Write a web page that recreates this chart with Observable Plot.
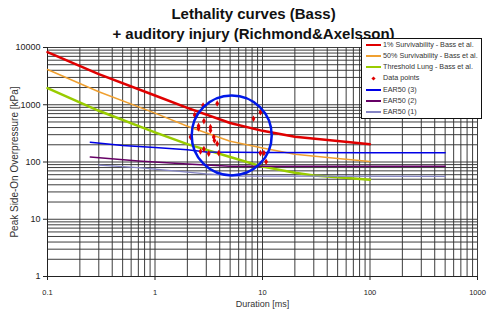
<!DOCTYPE html>
<html><head><meta charset="utf-8">
<script src="https://cdn.jsdelivr.net/npm/d3@7"></script>
<script src="https://cdn.jsdelivr.net/npm/@observablehq/plot@0.6"></script>
<style>
body{margin:0;background:#fff;font-family:"Liberation Sans",Arial,sans-serif;}
#wrap{position:relative;width:490px;height:313px;overflow:hidden;}
#legend{position:absolute;left:361px;top:38px;width:121px;height:81px;border:1px solid #111;background:#fff;box-sizing:border-box;}
.item{position:absolute;left:0;height:10px;font-size:7.2px;color:#333;line-height:10px;white-space:nowrap;}
.sw{position:absolute;left:4px;width:15px;}
.lab{position:absolute;left:21px;top:0;}
</style></head><body><div id="wrap"><div id="legend"></div></div>
<script>
const titleLines = ["Lethality curves (Bass)", "+ auditory injury (Richmond&Axelsson)"];
const xLabel = "Duration [ms]";
const yLabel = "Peak Side-On Overpressure [kPa]";
const xTicks = [0.1, 1, 10, 100, 1000];
const yTicks = [1, 10, 100, 1000, 10000];

const seriesNames = ["1% Survivability - Bass et al.", "50% Survivability - Bass et al.", "Threshold Lung - Bass et al.", "EAR50 (3)", "EAR50 (2)", "EAR50 (1)"];

const redX = [0.1, 0.3, 1, 2, 5, 10, 20, 50, 100];
const redY = [8300, 3420, 1450, 880, 480, 350, 275, 232, 205];
const orangeX = [0.1, 0.3, 1, 2, 5, 10, 20, 50, 100];
const orangeY = [4130, 1690, 713, 420, 230, 175, 136, 115, 102];
const greenX = [0.1, 0.3, 1, 2, 5, 10, 20, 30, 50, 100];
const greenY = [1950, 785, 329, 205, 122, 83, 65, 58, 54, 49];
const ear3X = [0.25, 0.5, 1, 2, 3, 10, 100, 500];
const ear3Y = [222, 195, 180, 163, 150, 146, 145, 145];
const ear2X = [0.25, 0.7, 2, 5, 500];
const ear2Y = [122, 104, 92, 84, 84];
const ear1X = [0.3, 0.7, 1.5, 3, 6, 500];
const ear1Y = [88, 80, 70, 62, 57, 56];

const dotsX = [2.80, 3.79, 2.34, 2.85, 2.54, 2.54, 3.28, 3.28, 3.52, 3.57, 3.79, 2.14, 2.85, 2.65, 3.16, 3.92, 8.24, 9.57, 9.57, 10.3, 10.8];
const dotsY = [973, 1054, 664, 518, 427, 385, 406, 356, 272, 238, 209, 274, 169, 153, 140, 143, 570, 743, 143, 143, 101];

const circleX = [5.17];
const circleY = [291];

const colors = ["#e00000", "#f0a030", "#99cc00", "#0000e6", "#660066", "#8585c5"];
const widths = [2.5, 1.5, 2.5, 1.5, 1.5, 1.3];
const xs = [redX, orangeX, greenX, ear3X, ear2X, ear1X];
const ys = [redY, orangeY, greenY, ear3Y, ear2Y, ear1Y];

const grid = (decades, top) => { const a = []; decades.forEach(d => { for (let k = 1; k <= 9; k++) a.push(d * k); }); a.push(top); return a; };
const xGrid = grid([0.1, 1, 10, 100], 1000).filter(v => v !== 0.1);
const yGrid = grid([1, 10, 100, 1000], 10000).filter(v => v !== 1);

const lineMarks = xs.map((xa, i) => Plot.line(xa.map((x, j) => ({x, y: ys[i][j]})), {x: "x", y: "y", stroke: colors[i], strokeWidth: widths[i]}));
const dots = dotsX.map((x, i) => ({x, y: dotsY[i]}));
const circ = circleX.map((x, i) => ({x, y: circleY[i]}));

const chart = Plot.plot({
  width: 490, height: 313,
  marginLeft: 47, marginRight: 13, marginTop: 47, marginBottom: 37,
  style: {fontFamily: "'Liberation Sans', Arial, sans-serif", background: "#fff", color: "#222"},
  x: {type: "log", domain: [0.1, 1000]},
  y: {type: "log", domain: [1, 10000]},
  marks: [
    Plot.gridX(xGrid, {stroke: "#333", strokeOpacity: 0.95, strokeWidth: 1}),
    Plot.gridY(yGrid, {stroke: "#333", strokeOpacity: 0.95, strokeWidth: 1}),
    Plot.ruleX([0.1], {stroke: "#222"}),
    Plot.ruleY([1], {stroke: "#222"}),
    Plot.axisX(xTicks, {tickSize: 4, tickPadding: 9, fontSize: 7.5, tickFormat: d => String(d), label: null}),
    Plot.axisY(yTicks, {tickSize: 4, tickPadding: 3, fontSize: 9, tickFormat: d => String(d), label: null}),
    ...lineMarks,
    Plot.dot(dots, {x: "x", y: "y", r: 2, symbol: "diamond", fill: "#e00000"}),
    Plot.dot(circ, {x: "x", y: "y", r: 40, stroke: "#0018e8", strokeWidth: 2.5, fill: "none"}),
    Plot.text([titleLines[0]], {text: d => d, frameAnchor: "top", dx: -9, dy: -33.5, fontSize: 15, fontWeight: "bold", lineAnchor: "middle", fill: "#111"}),
    Plot.text([titleLines[1]], {text: d => d, frameAnchor: "top", dx: -9, dy: -13, fontSize: 15, fontWeight: "bold", lineAnchor: "middle", fill: "#111"}),
    Plot.text([xLabel], {text: d => d, frameAnchor: "bottom", dy: 28, fontSize: 9, lineAnchor: "middle", textAnchor: "middle", fill: "#333"}),
    Plot.text([yLabel], {text: d => d, frameAnchor: "left", dx: -33, rotate: -90, fontSize: 10, lineAnchor: "middle", textAnchor: "middle", fill: "#333"})
  ]
});
const wrap = document.getElementById("wrap");
wrap.insertBefore(chart, wrap.firstChild);

const legend = document.getElementById("legend");
const legendItems = [
  {name: seriesNames[0], color: colors[0], type: "line"},
  {name: seriesNames[1], color: colors[1], type: "line"},
  {name: seriesNames[2], color: colors[2], type: "line"},
  {name: "Data points", color: "#e00000", type: "dot"},
  {name: seriesNames[3], color: colors[3], type: "line"},
  {name: seriesNames[4], color: colors[4], type: "line"},
  {name: seriesNames[5], color: colors[5], type: "line"}
];
legendItems.forEach((it, i) => {
  const d = document.createElement("div");
  d.className = "item";
  d.style.top = (0.5 + i * 11.3) + "px";
  d.style.width = "119px";
  const sw = document.createElement("div");
  sw.className = "sw";
  if (it.type === "line") {
    sw.style.top = "4px"; sw.style.height = "2px"; sw.style.background = it.color;
  } else {
    sw.style.top = "3.5px"; sw.style.left = "10px"; sw.style.width = "3px"; sw.style.height = "3px"; sw.style.background = it.color; sw.style.transform = "rotate(45deg)";
  }
  const lab = document.createElement("span");
  lab.className = "lab"; lab.textContent = it.name;
  d.appendChild(sw); d.appendChild(lab);
  legend.appendChild(d);
});
</script></body></html>
